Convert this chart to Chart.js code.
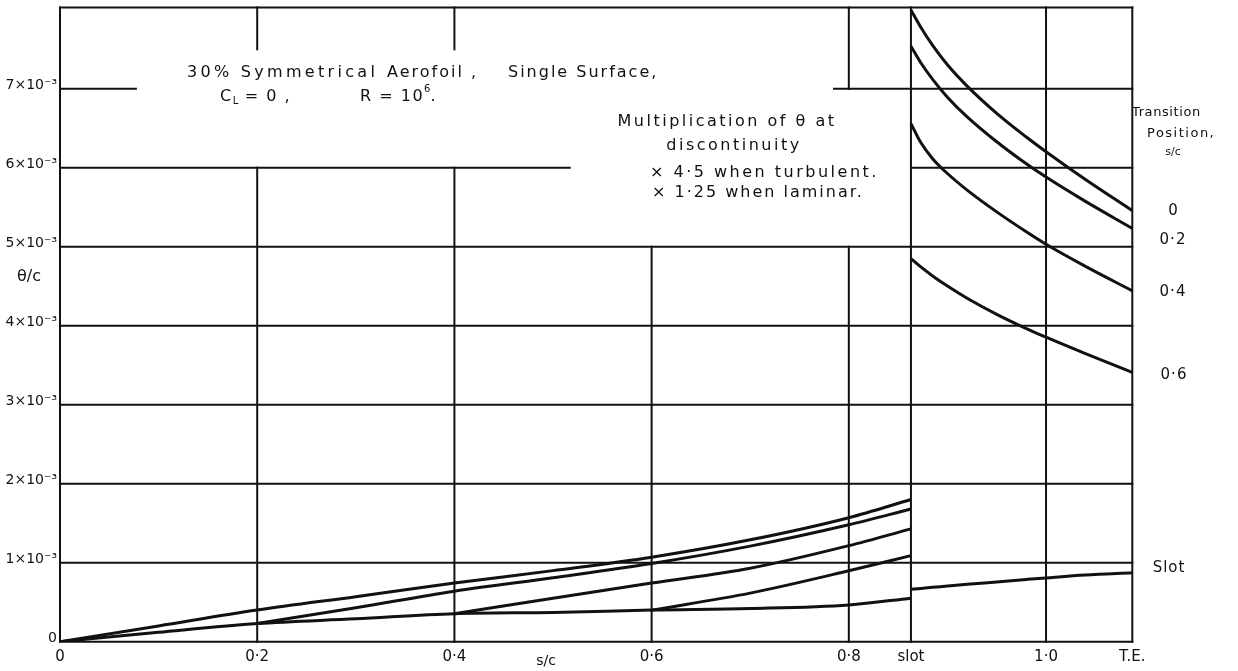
<!DOCTYPE html>
<html>
<head>
<meta charset="utf-8">
<script src="https://cdn.jsdelivr.net/npm/chart.js@4.4.0/dist/chart.umd.min.js"></script>
<style>
html,body{margin:0;padding:0;background:#fff;}
canvas{display:block;}
</style>
</head>
<body>
<canvas id="c" width="1238" height="671"></canvas>
<script>
// ---- axis definitions ----
const SLOT = 0.863;
const TE = 1.0875;
const Y_MAX = 8.03;
const xTickValues = [0, 0.2, 0.4, 0.6, 0.8, SLOT, 1.0, TE];
const xTickLabels = ['0', '0·2', '0·4', '0·6', '0·8', 'slot', '1·0', 'T.E.'];
const yTickValues = [0, 1, 2, 3, 4, 5, 6, 7];
const yTickLabels = ['0', '1×10⁻³', '2×10⁻³', '3×10⁻³', '4×10⁻³', '5×10⁻³', '6×10⁻³', '7×10⁻³'];

// ---- series (θ/c in units of 10⁻³) ----
// before the slot
const laminarX = [0, 0.1, 0.2, 0.3, 0.4, 0.5, 0.6, 0.7, 0.8, SLOT];
const laminarY = [0, 0.12, 0.23, 0.29, 0.355, 0.37, 0.40, 0.42, 0.466, 0.551];
const turb0X = [0, 0.1, 0.2, 0.3, 0.4, 0.5, 0.6, 0.7, 0.8, SLOT];
const turb0Y = [0, 0.20, 0.40, 0.57, 0.742, 0.90, 1.07, 1.29, 1.57, 1.80];
const turb02X = [0.2, 0.3, 0.4, 0.5, 0.6, 0.7, 0.8, SLOT];
const turb02Y = [0.23, 0.43, 0.64, 0.81, 0.99, 1.21, 1.48, 1.68];
const turb04X = [0.4, 0.5, 0.6, 0.7, 0.8, SLOT];
const turb04Y = [0.355, 0.55, 0.742, 0.93, 1.216, 1.428];
const turb06X = [0.6, 0.7, 0.8, SLOT];
const turb06Y = [0.40, 0.615, 0.898, 1.09];
// after the slot
const afterX = [SLOT, 0.873, 0.885, 0.9, 0.92, 0.95, 0.98, 1.0, 1.04, TE];
const after0Y = [8.0, 7.78, 7.55, 7.305, 7.035, 6.69, 6.39, 6.204, 5.852, 5.458];
const after02Y = [7.54, 7.33, 7.12, 6.895, 6.645, 6.33, 6.051, 5.883, 5.575, 5.233];
const after04Y = [6.56, 6.32, 6.116, 5.928, 5.718, 5.442, 5.19, 5.032, 4.752, 4.443];
const after06Y = [4.85, 4.745, 4.631, 4.503, 4.349, 4.145, 3.965, 3.855, 3.647, 3.41];
const afterSlotY = [0.663, 0.675, 0.688, 0.705, 0.727, 0.757, 0.788, 0.808, 0.845, 0.873];

// ---- paper grid segments (interrupted by the lettering) ----
const gridH = [ // [y, xFrom, xTo]
  [Y_MAX, 0, TE], [7, 0, 0.077], [7, 0.785, TE], [6, 0, 0.517], [6, SLOT, TE],
  [5, 0, TE], [4, 0, TE], [3, 0, TE], [2, 0, TE], [1, 0, TE], [0, 0, TE]
];
const gridV = [ // [x, yFrom, yTo]
  [0, 0, Y_MAX], [0.2, 0, 6], [0.2, 7.5, Y_MAX], [0.4, 0, 6], [0.4, 7.5, Y_MAX],
  [0.6, 0, 5], [0.8, 0, 5], [0.8, 7, Y_MAX], [SLOT, 0, Y_MAX], [1.0, 0, Y_MAX], [TE, 0, Y_MAX]
];

const INK = '#111111';
const FONT = '"DejaVu Sans", sans-serif';

function pts(xs, ys) { return xs.map((x, i) => ({ x: x, y: ys[i] })); }
function ds(label, xs, ys) {
  return {
    label: label, data: pts(xs, ys), showLine: true, borderColor: INK, borderWidth: 3,
    pointRadius: 0, fill: false, cubicInterpolationMode: 'monotone'
  };
}

const datasets = [
  ds('Slot', laminarX, laminarY),
  ds('0', turb0X, turb0Y),
  ds('0·2', turb02X, turb02Y),
  ds('0·4', turb04X, turb04Y),
  ds('0·6', turb06X, turb06Y),
  ds('0 (after slot)', afterX, after0Y),
  ds('0·2 (after slot)', afterX, after02Y),
  ds('0·4 (after slot)', afterX, after04Y),
  ds('0·6 (after slot)', afterX, after06Y),
  ds('Slot (after slot)', afterX, afterSlotY)
];

const bgPlugin = {
  id: 'bg',
  beforeDraw(chart) {
    const ctx = chart.ctx;
    ctx.save();
    ctx.fillStyle = '#fff';
    ctx.fillRect(0, 0, chart.width, chart.height);
    ctx.restore();
  }
};

const gridPlugin = {
  id: 'paperGrid',
  beforeDatasetsDraw(chart) {
    const ctx = chart.ctx, xs = chart.scales.x, ys = chart.scales.y;
    ctx.save();
    ctx.strokeStyle = INK;
    ctx.lineWidth = 2;
    ctx.lineCap = 'square';
    gridH.forEach(([y, a, b]) => {
      const py = ys.getPixelForValue(y);
      ctx.beginPath();
      ctx.moveTo(xs.getPixelForValue(a), py);
      ctx.lineTo(xs.getPixelForValue(b), py);
      ctx.stroke();
    });
    gridV.forEach(([x, a, b]) => {
      const px = xs.getPixelForValue(x);
      ctx.beginPath();
      ctx.moveTo(px, ys.getPixelForValue(a));
      ctx.lineTo(px, ys.getPixelForValue(b));
      ctx.stroke();
    });
    ctx.restore();
  }
};

function runs(ctx, parts, x, y, size, spacing) {
  let cx = x;
  parts.forEach(p => {
    const s = (p.sub || p.sup) ? Math.round(size * 0.62) : size;
    ctx.font = s + 'px ' + FONT;
    ctx.letterSpacing = (p.sub || p.sup) ? '0px' : spacing + 'px';
    const dy = p.sub ? size * 0.3 : (p.sup ? -size * 0.45 : 0);
    ctx.fillText(p.t, cx, y + dy);
    cx += ctx.measureText(p.t).width;
  });
}

function text(ctx, t, x, y, size, align, spacing) {
  ctx.font = size + 'px ' + FONT;
  ctx.letterSpacing = (spacing || 0) + 'px';
  ctx.textAlign = align || 'left';
  ctx.fillText(t, x, y);
  ctx.textAlign = 'left';
}

const textPlugin = {
  id: 'lettering',
  afterDraw(chart) {
    const ctx = chart.ctx;
    ctx.save();
    ctx.fillStyle = INK;
    ctx.textBaseline = 'middle';
    // title block
    text(ctx, '30% Symmetrical', 187, 73, 16, 'left', 3.3);
    text(ctx, 'Aerofoil ,', 387, 73, 16, 'left', 2);
    text(ctx, 'Single Surface,', 508, 73, 16, 'left', 2);
    runs(ctx, [{ t: 'C' }, { t: 'L', sub: true }, { t: ' = 0 ,' }], 220, 97, 16, 1.5);
    runs(ctx, [{ t: 'R = 10' }, { t: '6', sup: true }, { t: '.' }], 360, 97, 16, 1.5);
    // note block
    text(ctx, 'Multiplication of θ at', 727, 122, 16, 'center', 2.5);
    text(ctx, 'discontinuity', 734, 146, 16, 'center', 2.5);
    text(ctx, '× 4·5 when turbulent.', 650, 173, 16, 'left', 2.5);
    text(ctx, '× 1·25 when laminar.', 652, 193, 16, 'left', 2);
    // right-hand key
    text(ctx, 'Transition', 1132, 113, 13, 'left', 0.6);
    text(ctx, 'Position,', 1147, 134, 13, 'left', 1.5);
    text(ctx, 's/c', 1173, 152, 11, 'center', 0);
    text(ctx, '0', 1173, 211, 15, 'center', 0);
    text(ctx, '0·2', 1173, 240, 15, 'center', 1);
    text(ctx, '0·4', 1173, 292, 15, 'center', 1);
    text(ctx, '0·6', 1174, 375, 15, 'center', 1);
    text(ctx, 'Slot', 1169, 568, 15, 'center', 1);
    // axis titles
    text(ctx, 'θ/c', 29, 277, 16, 'center', 0);
    text(ctx, 's/c', 546, 661, 14, 'center', 0);
    ctx.restore();
  }
};

new Chart(document.getElementById('c'), {
  type: 'scatter',
  data: { datasets: datasets },
  options: {
    responsive: false,
    animation: false,
    devicePixelRatio: 1,
    layout: { padding: { top: 7.5, right: 105.7, left: 0, bottom: 0 } },
    plugins: { legend: { display: false }, tooltip: { enabled: false } },
    scales: {
      x: {
        type: 'linear', min: 0, max: TE,
        grid: { display: false, drawTicks: false },
        border: { display: false },
        afterBuildTicks: s => { s.ticks = xTickValues.map(v => ({ value: v })); },
        afterFit: s => { s.height = 29.3; s.paddingLeft = 0; s.paddingRight = 0; },
        ticks: {
          autoSkip: false, maxRotation: 0, minRotation: 0, padding: 6, color: INK,
          font: { family: 'DejaVu Sans', size: 15 },
          callback: (v, i) => xTickLabels[i]
        }
      },
      y: {
        type: 'linear', min: 0, max: Y_MAX,
        grid: { display: false, drawTicks: false },
        border: { display: false },
        afterBuildTicks: s => { s.ticks = yTickValues.map(v => ({ value: v })); },
        afterFit: s => { s.width = 60; s.paddingTop = 0; s.paddingBottom = 0; },
        ticks: {
          autoSkip: false, padding: 3, color: INK, labelOffset: -3,
          font: { family: 'DejaVu Sans', size: 14 },
          callback: (v, i) => yTickLabels[i]
        }
      }
    }
  },
  plugins: [bgPlugin, gridPlugin, textPlugin]
});
</script>
</body>
</html>
